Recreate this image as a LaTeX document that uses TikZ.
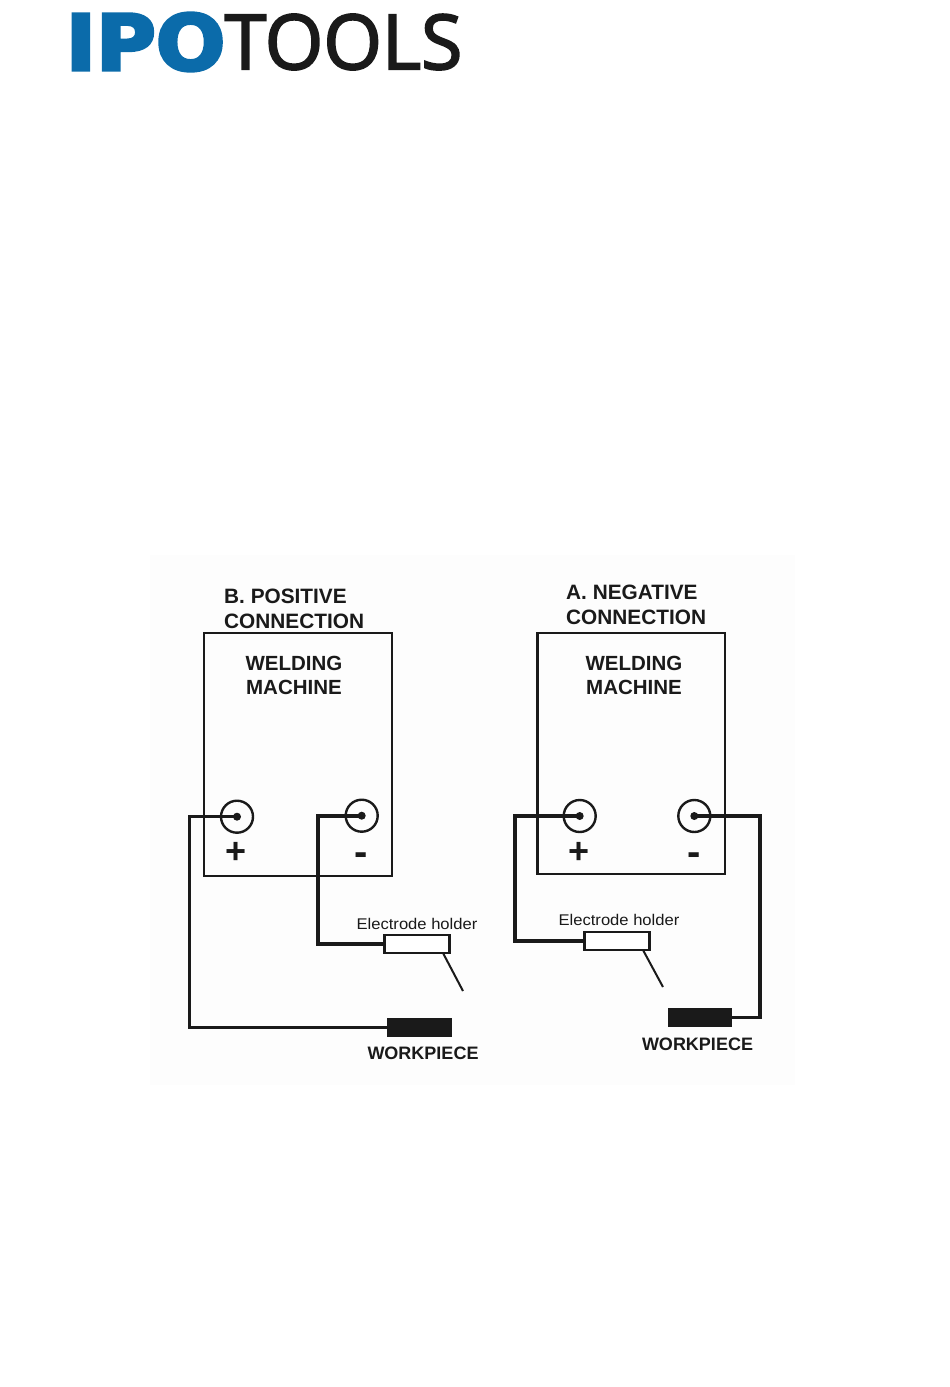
\documentclass[tikz,border=0pt]{standalone}
\usepackage{fontspec}
\setmainfont{Liberation Sans}
\newfontfamily\logobold{DejaVu Sans Bold}[FakeBold=4]
\newfontfamily\logoreg{Open Sans}[FakeBold=2.5]
\definecolor{ipoblue}{HTML}{0B6BAA}
\definecolor{ink}{HTML}{1A1A1A}
\definecolor{paper}{HTML}{FDFDFD}
\tikzset{
  panel/.style={draw=ink,line width=2.6pt,inner sep=0pt,outer sep=0pt},
  terminal/.style={circle,draw=ink,line width=2.4pt,minimum size=32pt,inner sep=0pt},
  pin/.style={circle,fill=ink,minimum size=8pt,inner sep=0pt},
  wire/.style={draw=ink,line width=3pt,line join=miter},
  heavywire/.style={draw=ink,line width=3.6pt,line join=miter},
  holder/.style={draw=ink,fill=white,line width=2.6pt,minimum width=65pt,minimum height=18pt,inner sep=0pt,outer sep=0pt},
  work/.style={fill=ink,minimum width=64.5pt,minimum height=19pt,inner sep=0pt,outer sep=0pt},
  tip/.style={draw=ink,line width=2pt},
  title/.style={font=\bfseries\fontsize{20.8}{24.8}\selectfont,text=ink,align=left,anchor=west,inner sep=0pt},
  machine/.style={font=\bfseries\fontsize{20.5}{24.5}\selectfont,text=ink,align=center,inner sep=0pt},
  hlabel/.style={font=\fontsize{15.5}{18}\selectfont,text=ink,inner sep=0pt},
  wlabel/.style={font=\bfseries\fontsize{18}{20}\selectfont,text=ink,inner sep=0pt},
  plussign/.style={font=\bfseries\fontsize{36}{36}\selectfont,text=ink,inner sep=0pt},
  minussign/.style={font=\bfseries\fontsize{40}{40}\selectfont,text=ink,inner sep=0pt},
}
\begin{document}
\begin{tikzpicture}[x=1pt,y=-1pt]
\useasboundingbox (0,0) rectangle (950,1387);
\fill[paper] (150,555) rectangle (795,1085);
% logo
\node[inner sep=0pt,text=ipoblue] (logoa) at (145.5,42) {\scalebox{1.06}[1]{\fontsize{77}{77}\selectfont\logobold IPO}};
\node[inner sep=0pt,text=ink] (logob) at (343.5,42) {\scalebox{0.99}[1]{\fontsize{76}{76}\selectfont\logoreg TOOLS}};
% left diagram
\node[title] (ltitle) at (224,608.5) {B. POSITIVE\\CONNECTION};
\node[panel,minimum width=188pt,minimum height=243pt] (lbox) at (298,754.5) {};
\node[machine] (lmach) at (294,675.5) {WELDING\\MACHINE};
\node[terminal] (lplus) at (237,816.7) {};
\node[terminal] (lminus) at (361.7,815.7) {};
\node[pin] (lpluspin) at (237,816.7) {};
\node[pin] (lminuspin) at (361.7,815.7) {};
\node[plussign] (lplussign) at (236,853) {+};
\node[minussign] (lminussign) at (361,859) {-};
\node[holder] (lhold) at (417,944) {};
\node[hlabel] (lholdlabel) at (417,924) {\scalebox{1.07}[1]{Electrode holder}};
\node[work] (lwork) at (419.5,1027) {};
\node[wlabel] (lworklabel) at (423,1053.5) {WORKPIECE};
\coordinate (lw1) at (189,816.7);
\coordinate (lw2) at (318,815.7);
\coordinate (ltipa) at (443,953);
\coordinate (ltipb) at (463,991);
\draw[wire] (lpluspin.center) -- (lw1) |- (lwork.west);
\draw[heavywire] (lminuspin.center) -- (lw2) |- (lhold.west);
\draw[tip] (ltipa) -- (ltipb);
% right diagram
\node[title] (rtitle) at (566,605) {A. NEGATIVE\\CONNECTION};
\node[panel,minimum width=187.5pt,minimum height=241pt] (rbox) at (631.3,753.5) {};
\node[machine] (rmach) at (634,675.5) {WELDING\\MACHINE};
\node[terminal] (rplus) at (579.7,816) {};
\node[terminal] (rminus) at (694.3,816) {};
\node[pin] (rpluspin) at (579.7,816) {};
\node[pin] (rminuspin) at (694.3,816) {};
\node[plussign] (rplussign) at (579,853) {+};
\node[minussign] (rminussign) at (694,859) {-};
\node[holder] (rhold) at (617,941) {};
\node[hlabel] (rholdlabel) at (619,920) {\scalebox{1.07}[1]{Electrode holder}};
\node[work] (rwork) at (700,1017.5) {};
\node[wlabel] (rworklabel) at (697.5,1044.5) {WORKPIECE};
\coordinate (rw1) at (515,816);
\coordinate (rw2) at (760,816);
\coordinate (rtipa) at (643,950);
\coordinate (rtipb) at (663,987);
\draw[heavywire] (rpluspin.center) -- (rw1) |- (rhold.west);
\draw[heavywire] (rminuspin.center) -- (rw2) |- (rwork.east);
\draw[tip] (rtipa) -- (rtipb);
\end{tikzpicture}
\end{document}
